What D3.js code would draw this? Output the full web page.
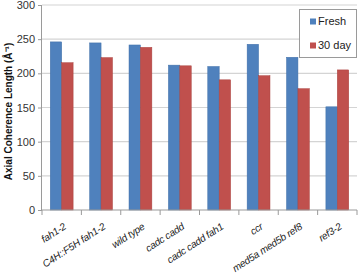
<!DOCTYPE html>
<html><head><meta charset="utf-8">
<script src="https://cdn.jsdelivr.net/npm/d3@7"></script>
<style>body{margin:0;background:#fff}svg{display:block}</style>
</head><body>
<script>
const categories = ["fah1-2","C4H::F5H fah1-2","wild type","cadc cadd","cadc cadd fah1","ccr","med5a med5b ref8","ref3-2"];
const seriesNames = ["Fresh","30 day"];
const freshValues = [246,244.5,241.5,212,210,242.5,223.5,151];
const day30Values = [215.5,223,238,211,190.5,196.5,177.5,205];
const yTicks = [0,50,100,150,200,250,300];
const colors = ["#4f81bd","#c0504d"];
const strokes = ["#3f6fa8","#a9403d"];

const W=359,H=275;
const m={left:42,right:2,top:5,bottom:65};
const svg=d3.select("body").append("svg").attr("width",W).attr("height",H);
const x=d3.scaleBand().domain(categories).range([m.left,W-m.right]).paddingInner(0.42).paddingOuter(0.21);
const step=x.step();
const x1=d3.scaleBand().domain(seriesNames).range([0,x.bandwidth()]);
const y=d3.scaleLinear().domain([0,300]).range([H-m.bottom,m.top]);
const FONT="Liberation Sans, Arial, sans-serif";

// gridlines
svg.append("g").selectAll("line").data(yTicks.filter(d=>d>0)).join("line")
  .attr("x1",m.left).attr("x2",W-m.right).attr("y1",d=>y(d)).attr("y2",d=>y(d))
  .attr("stroke","#d4d4d4").attr("stroke-width",1.2);

// bars
const data=categories.map((c,i)=>({c,v:[freshValues[i],day30Values[i]]}));
const g=svg.append("g").selectAll("g").data(data).join("g").attr("transform",d=>`translate(${x(d.c)},0)`);
g.selectAll("rect").data(d=>d.v.map((v,j)=>({v,s:seriesNames[j],j}))).join("rect")
  .attr("x",d=>x1(d.s)).attr("width",x1.bandwidth())
  .attr("y",d=>y(d.v)).attr("height",d=>y(0)-y(d.v))
  .attr("fill",d=>colors[d.j]).attr("stroke",d=>strokes[d.j]).attr("stroke-width",0.5);

// y axis
const ya=svg.append("g").attr("transform",`translate(${m.left},0)`)
  .call(d3.axisLeft(y).tickValues(yTicks).tickSize(4).tickPadding(3));
ya.select(".domain").attr("stroke","#9a9a9a").attr("d",`M-0.5,${y(300)}V${y(0)}`);
ya.selectAll(".tick line").attr("stroke","#9a9a9a");
ya.selectAll("text").attr("font-family",FONT).attr("font-size",11).attr("fill","#333");

// x axis
const xa=svg.append("g").attr("transform",`translate(0,${y(0)})`);
xa.append("line").attr("x1",m.left).attr("x2",W-m.right).attr("stroke","#9a9a9a");
const bounds=d3.range(categories.length+1).map(i=>m.left+i*step);
xa.selectAll("line.t").data(bounds).join("line").attr("class","t")
  .attr("x1",d=>d).attr("x2",d=>d).attr("y1",0).attr("y2",5).attr("stroke","#9a9a9a");
xa.selectAll("text").data(categories).join("text")
  .attr("transform",d=>`translate(${x(d)+x.bandwidth()/2+1},12) rotate(-33)`)
  .attr("text-anchor","end").attr("dy","0.75em")
  .attr("font-family",FONT).attr("font-style","italic")
  .attr("font-size",10).attr("letter-spacing","-0.2").attr("fill","#222").text(d=>d);

// y title
svg.append("text").attr("transform",`translate(12,${(y(0)+y(300))/2+4}) rotate(-90)`)
  .attr("text-anchor","middle").attr("font-family",FONT)
  .attr("font-weight","bold").attr("font-size",10).attr("fill","#111")
  .text("Axial Coherence Length (Å⁻¹)");

// legend
const lg=svg.append("g");
lg.append("rect").attr("x",299.5).attr("y",9.5).attr("width",57).attr("height",48)
  .attr("fill","#fff").attr("stroke","#9a9a9a");
seriesNames.forEach((s,i)=>{
  const cy=[21.5,45.5][i];
  lg.append("rect").attr("x",310).attr("y",cy-3).attr("width",6).attr("height",6).attr("fill",colors[i]);
  lg.append("text").attr("x",318).attr("y",cy).attr("dy","0.35em")
    .attr("font-family",FONT).attr("font-size",11).attr("fill","#222").text(s);
});
</script>
</body></html>
